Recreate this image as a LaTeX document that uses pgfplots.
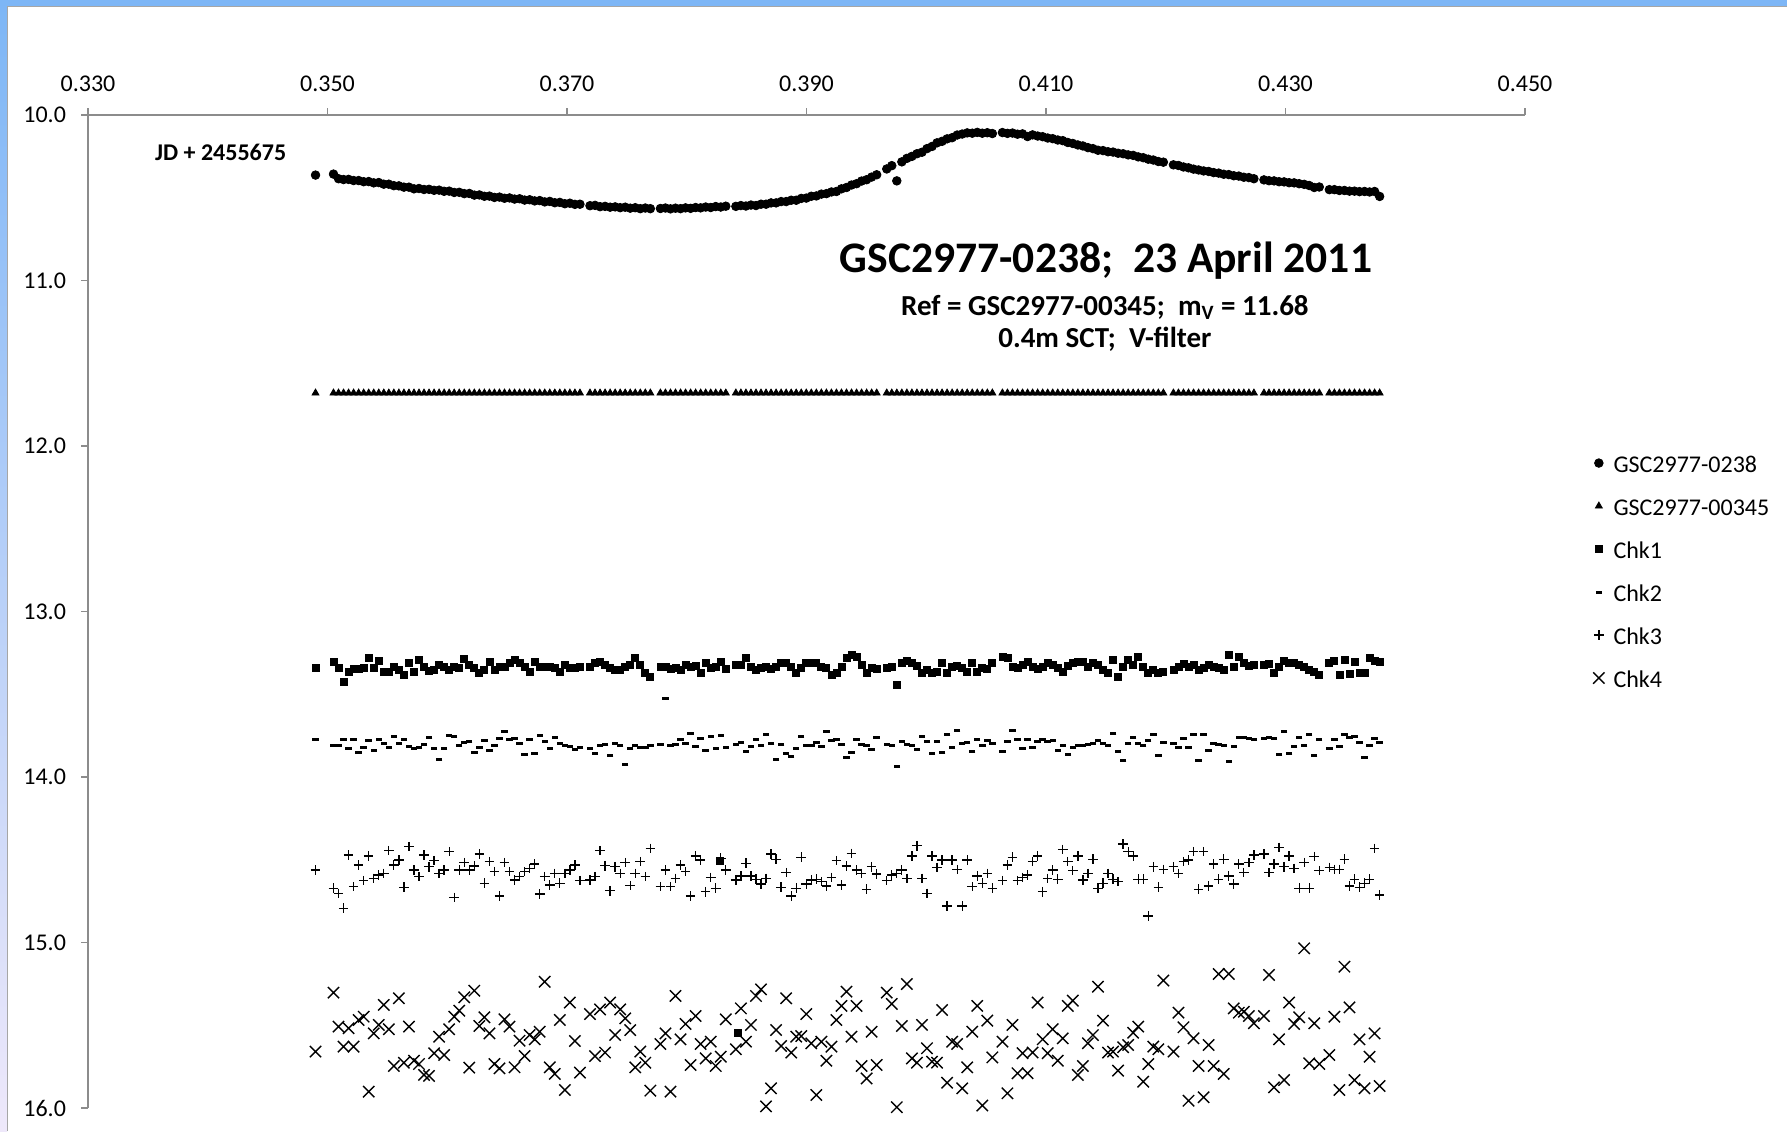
\documentclass[border=0pt]{standalone}
\usepackage{pgfplots}
\pgfplotsset{compat=1.18}
\usepackage{pgfplotstable}
\usepackage{fontspec}
\setmainfont{Carlito}
\definecolor{axgray}{RGB}{140,140,140}
\definecolor{frameblue}{RGB}{125,182,246}
\definecolor{framelav}{RGB}{238,232,250}
\pgfplotsset{mylegend/.style={legend image code/.code={\draw[##1] plot coordinates {(0pt,0pt)};}}}
\pgfplotstableread{
x V R C1 C2 C3 C4
0.34900 10.363 11.68 13.343 13.776 14.562 15.659
0.35050 10.357 11.68 13.303 13.812 14.672 15.303
0.35092 10.385 11.68 13.343 13.812 14.703 15.508
0.35134 10.390 11.68 13.424 13.776 14.793 15.629
0.35176 10.389 11.68 13.363 13.827 14.471 15.518
0.35218 10.396 11.68 13.349 13.776 14.662 15.629
0.35260 10.396 11.68 13.349 13.853 14.532 15.468
0.35302 10.403 11.68 13.343 13.821 14.626 15.448
0.35344 10.402 11.68 13.283 13.780 14.477 15.901
0.35386 10.410 11.68 13.343 13.837 14.612 15.549
0.35428 10.408 11.68 13.297 13.772 14.592 15.498
0.35470 10.418 11.68 13.363 13.796 14.582 15.377
0.35512 10.418 11.68 13.363 13.821 14.445 15.524
0.35554 10.427 11.68 13.333 13.756 14.532 15.746
0.35596 10.428 11.68 13.353 13.800 14.501 15.337
0.35638 10.436 11.68 13.383 13.772 14.666 15.726
0.35680 10.436 11.68 13.313 13.816 14.421 15.508
0.35722 10.446 11.68 13.363 13.827 14.562 15.714
0.35764 10.444 11.68 13.293 13.821 14.602 15.734
0.35806 10.450 11.68 13.333 13.806 14.471 15.800
0.35848 10.449 11.68 13.359 13.762 14.542 15.806
0.35890 10.455 11.68 13.353 13.827 14.505 15.669
0.35932 10.454 11.68 13.323 13.893 14.582 15.569
0.35974 10.461 11.68 13.333 13.827 14.562 15.680
0.36016 10.460 11.68 13.353 13.752 14.451 15.524
0.36058 10.468 11.68 13.333 13.756 14.727 15.448
0.36100 10.467 11.68 13.343 13.812 14.562 15.412
0.36142 10.475 11.68 13.289 13.792 14.517 15.331
0.36184 10.474 11.68 13.323 13.786 14.562 15.756
0.36226 10.484 11.68 13.343 13.853 14.538 15.291
0.36268 10.483 11.68 13.373 13.821 14.465 15.504
0.36310 10.491 11.68 13.353 13.780 14.642 15.452
0.36352 10.490 11.68 13.303 13.837 14.511 15.549
0.36394 10.498 11.68 13.353 13.812 14.572 15.734
0.36436 10.496 11.68 13.333 13.766 14.719 15.760
0.36478 10.503 11.68 13.333 13.726 14.517 15.464
0.36520 10.501 11.68 13.313 13.772 14.572 15.508
0.36562 10.508 11.68 13.293 13.766 14.622 15.754
0.36604 10.506 11.68 13.313 13.800 14.602 15.593
0.36646 10.514 11.68 13.333 13.863 14.572 15.686
0.36688 10.512 11.68 13.363 13.772 14.552 15.559
0.36730 10.519 11.68 13.303 13.857 14.525 15.585
0.36772 10.517 11.68 13.333 13.752 14.707 15.539
0.36814 10.525 11.68 13.337 13.786 14.602 15.237
0.36856 10.522 11.68 13.333 13.827 14.652 15.754
0.36898 10.530 11.68 13.343 13.760 14.582 15.794
0.36940 10.528 11.68 13.363 13.796 14.642 15.468
0.36982 10.536 11.68 13.323 13.812 14.582 15.891
0.37024 10.533 11.68 13.343 13.816 14.562 15.363
0.37066 10.540 11.68 13.343 13.833 14.532 15.595
0.37108 10.539 11.68 13.333 13.821 14.626 15.786
0.37192 10.548 11.68 13.333 13.827 14.622 15.432
0.37234 10.546 11.68 13.313 13.857 14.602 15.686
0.37276 10.554 11.68 13.303 13.812 14.445 15.404
0.37318 10.552 11.68 13.323 13.806 14.536 15.665
0.37360 10.557 11.68 13.343 13.873 14.687 15.363
0.37402 10.555 11.68 13.353 13.800 14.542 15.559
0.37444 10.560 11.68 13.353 13.812 14.582 15.404
0.37486 10.557 11.68 13.333 13.923 14.517 15.458
0.37528 10.563 11.68 13.323 13.827 14.656 15.529
0.37570 10.560 11.68 13.283 13.812 14.582 15.754
0.37612 10.566 11.68 13.323 13.821 14.511 15.659
0.37654 10.562 11.68 13.373 13.821 14.602 15.726
0.37696 10.566 11.68 13.394 13.812 14.431 15.895
0.37780 10.565 11.68 13.333 13.806 14.662 15.613
0.37822 10.562 11.68 13.333 13.524 14.562 15.549
0.37864 10.567 11.68 13.349 13.812 14.662 15.901
0.37906 10.563 11.68 13.343 13.806 14.612 15.323
0.37948 10.566 11.68 13.353 13.776 14.532 15.585
0.37990 10.561 11.68 13.323 13.800 14.572 15.492
0.38032 10.564 11.68 13.333 13.740 14.719 15.740
0.38074 10.559 11.68 13.329 13.816 14.477 15.444
0.38116 10.561 11.68 13.373 13.766 14.501 15.613
0.38158 10.556 11.68 13.309 13.841 14.693 15.700
0.38200 10.559 11.68 13.343 13.756 14.606 15.599
0.38242 10.553 11.68 13.337 13.827 14.672 15.746
0.38284 10.556 11.68 13.303 13.752 14.491 15.690
0.38326 10.551 11.68 13.349 13.821 14.562 15.464
0.38410 10.552 11.68 13.323 13.806 14.622 15.645
0.38452 10.547 11.68 13.323 13.792 14.598 15.398
0.38494 10.550 11.68 13.283 13.847 14.521 15.599
0.38536 10.544 11.68 13.333 13.816 14.598 15.498
0.38578 10.547 11.68 13.353 13.776 14.618 15.323
0.38620 10.539 11.68 13.343 13.812 14.646 15.283
0.38662 10.539 11.68 13.333 13.746 14.612 15.990
0.38704 10.531 11.68 13.349 13.796 14.465 15.881
0.38746 10.531 11.68 13.333 13.897 14.497 15.529
0.38788 10.523 11.68 13.313 13.806 14.666 15.625
0.38830 10.523 11.68 13.309 13.857 14.578 15.337
0.38872 10.515 11.68 13.333 13.877 14.719 15.665
0.38914 10.515 11.68 13.373 13.827 14.672 15.569
0.38956 10.504 11.68 13.343 13.756 14.485 15.565
0.38998 10.502 11.68 13.313 13.812 14.646 15.432
0.39040 10.491 11.68 13.313 13.812 14.622 15.609
0.39082 10.489 11.68 13.313 13.792 14.618 15.921
0.39124 10.478 11.68 13.333 13.816 14.632 15.599
0.39166 10.475 11.68 13.343 13.722 14.658 15.714
0.39208 10.465 11.68 13.383 13.780 14.606 15.629
0.39250 10.462 11.68 13.373 13.772 14.505 15.468
0.39292 10.446 11.68 13.333 13.806 14.652 15.383
0.39334 10.438 11.68 13.283 13.881 14.538 15.297
0.39376 10.423 11.68 13.263 13.853 14.461 15.569
0.39418 10.415 11.68 13.273 13.772 14.562 15.383
0.39460 10.399 11.68 13.323 13.806 14.582 15.746
0.39502 10.391 11.68 13.373 13.812 14.678 15.821
0.39544 10.375 11.68 13.343 13.833 14.542 15.539
0.39586 10.361 11.68 13.349 13.760 14.586 15.740
0.39670 10.326 11.68 13.343 13.806 14.626 15.303
0.39712 10.306 11.68 13.333 13.812 14.592 15.371
0.39754 10.398 11.68 13.444 13.937 14.582 15.995
0.39796 10.283 11.68 13.313 13.786 14.562 15.504
0.39838 10.262 11.68 13.297 13.806 14.612 15.251
0.39880 10.250 11.68 13.313 13.812 14.477 15.700
0.39922 10.234 11.68 13.329 13.833 14.415 15.726
0.39964 10.225 11.68 13.373 13.756 14.612 15.498
0.40006 10.203 11.68 13.353 13.786 14.703 15.639
0.40048 10.190 11.68 13.373 13.857 14.477 15.720
0.40090 10.168 11.68 13.363 13.786 14.546 15.726
0.40132 10.159 11.68 13.313 13.853 14.501 15.408
0.40174 10.144 11.68 13.373 13.746 14.779 15.847
0.40216 10.137 11.68 13.333 13.821 14.501 15.599
0.40258 10.121 11.68 13.329 13.720 14.560 15.613
0.40300 10.115 11.68 13.343 13.796 14.779 15.881
0.40342 10.108 11.68 13.363 13.792 14.501 15.754
0.40384 10.110 11.68 13.313 13.843 14.662 15.539
0.40426 10.105 11.68 13.363 13.776 14.598 15.383
0.40468 10.110 11.68 13.343 13.812 14.642 15.985
0.40510 10.107 11.68 13.349 13.780 14.582 15.472
0.40552 10.112 11.68 13.313 13.800 14.672 15.694
0.40636 10.106 11.68 13.277 13.847 14.626 15.599
0.40678 10.111 11.68 13.283 13.786 14.532 15.911
0.40720 10.109 11.68 13.333 13.716 14.485 15.498
0.40762 10.116 11.68 13.343 13.772 14.626 15.790
0.40804 10.114 11.68 13.323 13.827 14.606 15.669
0.40846 10.130 11.68 13.303 13.772 14.592 15.790
0.40888 10.120 11.68 13.333 13.821 14.511 15.665
0.40930 10.127 11.68 13.349 13.786 14.477 15.363
0.40972 10.131 11.68 13.337 13.776 14.693 15.585
0.41014 10.139 11.68 13.313 13.786 14.612 15.669
0.41056 10.143 11.68 13.323 13.780 14.562 15.524
0.41098 10.151 11.68 13.343 13.837 14.618 15.714
0.41140 10.155 11.68 13.363 13.812 14.437 15.579
0.41182 10.166 11.68 13.329 13.861 14.511 15.383
0.41224 10.172 11.68 13.313 13.821 14.566 15.351
0.41266 10.181 11.68 13.303 13.812 14.477 15.800
0.41308 10.187 11.68 13.303 13.812 14.622 15.746
0.41350 10.197 11.68 13.337 13.806 14.582 15.609
0.41392 10.203 11.68 13.313 13.800 14.497 15.559
0.41434 10.213 11.68 13.323 13.780 14.672 15.267
0.41476 10.215 11.68 13.353 13.796 14.642 15.472
0.41518 10.222 11.68 13.373 13.812 14.582 15.665
0.41560 10.224 11.68 13.293 13.740 14.618 15.659
0.41602 10.231 11.68 13.394 13.847 14.632 15.774
0.41644 10.234 11.68 13.337 13.901 14.405 15.633
0.41686 10.241 11.68 13.293 13.800 14.451 15.619
0.41728 10.244 11.68 13.323 13.760 14.477 15.545
0.41770 10.253 11.68 13.277 13.800 14.618 15.508
0.41812 10.258 11.68 13.333 13.812 14.618 15.841
0.41854 10.267 11.68 13.373 13.780 14.840 15.734
0.41896 10.272 11.68 13.353 13.746 14.542 15.629
0.41938 10.281 11.68 13.373 13.867 14.666 15.645
0.41980 10.285 11.68 13.363 13.792 14.558 15.230
0.42064 10.301 11.68 13.353 13.800 14.542 15.659
0.42106 10.305 11.68 13.333 13.821 14.582 15.424
0.42148 10.314 11.68 13.317 13.766 14.511 15.512
0.42190 10.319 11.68 13.333 13.821 14.501 15.956
0.42232 10.327 11.68 13.323 13.746 14.451 15.579
0.42274 10.332 11.68 13.353 13.901 14.678 15.746
0.42316 10.338 11.68 13.343 13.746 14.451 15.935
0.42358 10.341 11.68 13.323 13.837 14.658 15.619
0.42400 10.348 11.68 13.333 13.800 14.525 15.746
0.42442 10.351 11.68 13.343 13.806 14.618 15.190
0.42484 10.358 11.68 13.353 13.812 14.497 15.794
0.42526 10.360 11.68 13.263 13.907 14.598 15.190
0.42568 10.367 11.68 13.337 13.816 14.646 15.398
0.42610 10.369 11.68 13.277 13.760 14.525 15.424
0.42652 10.376 11.68 13.313 13.760 14.578 15.418
0.42694 10.378 11.68 13.329 13.766 14.517 15.444
0.42736 10.385 11.68 13.323 13.772 14.471 15.488
0.42820 10.392 11.68 13.323 13.766 14.465 15.444
0.42862 10.397 11.68 13.317 13.760 14.578 15.196
0.42904 10.398 11.68 13.373 13.766 14.525 15.875
0.42946 10.403 11.68 13.333 13.861 14.425 15.585
0.42988 10.404 11.68 13.297 13.726 14.542 15.831
0.43030 10.409 11.68 13.313 13.857 14.477 15.363
0.43072 10.410 11.68 13.313 13.816 14.552 15.492
0.43114 10.415 11.68 13.323 13.760 14.672 15.452
0.43156 10.419 11.68 13.333 13.812 14.517 15.035
0.43198 10.426 11.68 13.353 13.746 14.672 15.730
0.43240 10.438 11.68 13.363 13.867 14.481 15.488
0.43282 10.435 11.68 13.383 13.772 14.566 15.734
0.43366 10.451 11.68 13.313 13.827 14.546 15.680
0.43408 10.451 11.68 13.297 13.772 14.558 15.448
0.43450 10.456 11.68 13.383 13.816 14.558 15.891
0.43492 10.456 11.68 13.293 13.746 14.497 15.146
0.43534 10.460 11.68 13.377 13.760 14.658 15.392
0.43576 10.460 11.68 13.303 13.756 14.618 15.831
0.43618 10.463 11.68 13.373 13.792 14.666 15.585
0.43660 10.462 11.68 13.373 13.881 14.642 15.881
0.43702 10.465 11.68 13.283 13.812 14.618 15.690
0.43744 10.462 11.68 13.297 13.766 14.431 15.549
0.43786 10.492 11.68 13.303 13.792 14.713 15.867
}\lc
\begin{document}
\begin{tikzpicture}
\useasboundingbox (0,0) rectangle (893.5pt,565.5pt);
\fill[white] (0,0) rectangle (893.5pt,565.5pt);
\shade[top color=frameblue, bottom color=framelav] (0,0) rectangle (3.6pt,565.5pt);
\fill[frameblue] (0,562.6pt) rectangle (893.5pt,565.5pt);
\draw[gray!70, line width=0.5pt] (3.8pt,0) -- (3.8pt,562.4pt) -- (893.5pt,562.4pt);
\begin{axis}[
  at={(44pt,11.5pt)}, anchor=south west,
  scale only axis, width=718.5pt, height=496.5pt,
  xmin=0.33, xmax=0.45, ymin=10, ymax=16, y dir=reverse,
  axis x line=top, axis y line=left,
  axis line style={-, draw=axgray, line width=0.8pt},
  tick align=outside, major tick length=3.5pt,
  tick style={axgray, line width=0.8pt},
  scaled ticks=false,
  xtick={0.33,0.35,0.37,0.39,0.41,0.43,0.45},
  xticklabels={0.330,0.350,0.370,0.390,0.410,0.430,0.450},
  ytick={10,11,12,13,14,15,16},
  yticklabels={10.0,11.0,12.0,13.0,14.0,15.0,16.0},
  ticklabel style={font=\fontsize{12}{14}\selectfont, text=black},
  yticklabel style={xshift=-4pt},
  xticklabel style={yshift=4.5pt},
  clip=false,
  legend style={at={(1.043,0.663)}, anchor=north west, draw=none, fill=none,
    font=\fontsize{12}{14}\selectfont, row sep=12.5pt, column sep=4.5pt,
    nodes={inner sep=0pt, text height=9pt, text depth=0pt}},
  legend cell align=left,
]
\addplot[only marks, mark=*, mark size=2.15pt, black, mylegend] table[x=x,y=V]{\lc};
\addlegendentry{GSC2977-0238}
\addplot[only marks, mark=triangle*, mark size=2.0pt, black, mylegend] table[x=x,y=R]{\lc};
\addlegendentry{GSC2977-00345}
\addplot[only marks, mark=square*, mark size=1.75pt, black, mylegend] table[x=x,y=C1]{\lc};
\addlegendentry{Chk1}
\addplot[only marks, mark=-, mark size=1.6pt, black, mark options={line width=1.5pt}, mylegend] table[x=x,y=C2]{\lc};
\addlegendentry{Chk2}
\addplot[only marks, mark=+, mark size=2.4pt, black, mark options={line width=0.65pt}, mylegend] table[x=x,y=C3]{\lc};
\addlegendentry{Chk3}
\addplot[only marks, mark=x, mark size=4pt, black, mark options={line width=0.7pt}, mylegend] table[x=x,y=C4]{\lc};
\addlegendentry{Chk4}
\addplot[only marks, mark=square*, mark size=1.75pt, black, forget plot] coordinates {(0.38278,14.507) (0.38428,15.549)};
\node[font=\bfseries\fontsize{21.8}{24}\selectfont, anchor=base] at (axis cs:0.41500,10.95) {GSC2977-0238;\ \ 23 April 2011};
\node[font=\bfseries\fontsize{14.5}{17}\selectfont, anchor=base] at (axis cs:0.41492,11.212) {Ref = GSC2977-00345;\ \ m\textsubscript{V} = 11.68};
\node[font=\bfseries\fontsize{14.5}{17}\selectfont, anchor=base] at (axis cs:0.41492,11.405) {0.4m SCT;\ \ V-filter};
\node[font=\bfseries\fontsize{12}{14}\selectfont, anchor=base] at (axis cs:0.34108,10.276) {JD + 2455675};
\end{axis}
\end{tikzpicture}
\end{document}
